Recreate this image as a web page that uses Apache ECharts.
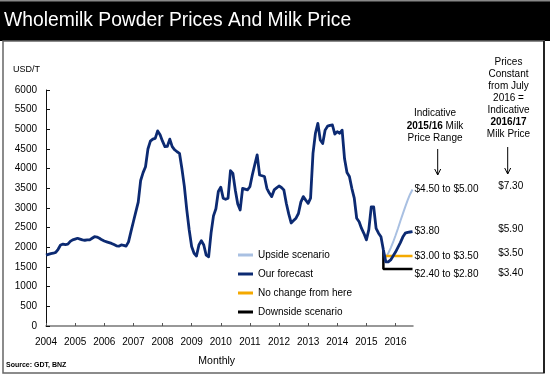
<!DOCTYPE html>
<html>
<head>
<meta charset="utf-8">
<script src="https://cdn.jsdelivr.net/npm/echarts@6/dist/echarts.min.js"></script>
<style>
html,body{margin:0;padding:0;background:#fff;}
#chart{width:550px;height:378px;}
</style>
</head>
<body>
<div id="chart"></div>
<script>
// ---- Data ----
const historyStart = '2004-01';
// Wholemilk powder price, USD/T, monthly Jan 2004 .. Aug 2015
const wmpHistory = [
  1800,1820,1840,1850,1870,1950,2060,2080,2070,2080,2150,2190,
  2210,2230,2210,2190,2180,2190,2190,2230,2270,2260,2230,2190,
  2160,2140,2120,2100,2070,2040,2030,2060,2050,2030,2140,2400,
  2650,2900,3150,3700,3900,4050,4500,4700,4750,4770,4960,4860,
  4700,4560,4570,4750,4560,4480,4430,4390,4000,3550,2950,2440,
  2020,1850,1780,2060,2170,2060,1800,1760,2360,2800,2980,3420,
  3530,3250,3220,3250,3950,3880,3450,3100,2950,3500,3480,3460,
  3540,3840,4100,4350,3840,3820,3800,3500,3380,3290,3460,3510,
  3560,3520,3460,3120,2850,2620,2680,2740,2860,3150,3290,3200,
  3120,3250,4390,4900,5150,4730,4640,4980,5080,5100,5110,4880,
  4940,4900,4980,4250,3900,3800,3500,3250,2740,2650,2480,2350,
  2190,2450,3030,3030,2480,2360,2270,1930
];
const forecastMonths = ['2015-09','2015-10','2015-11','2015-12','2016-01','2016-02',
                        '2016-03','2016-04','2016-05','2016-06','2016-07','2016-08'];
const ourForecast = [1630,1630,1680,1780,1880,2000,2120,2260,2360,2380,2390,2400];
const upsideScenario = [1750,1850,1980,2130,2300,2480,2670,2850,3030,3200,3350,3470];
const noChange = [['2015-08',1780],['2016-08',1780]];
const downside = [['2015-08',1930],['2015-08',1450],['2016-08',1450]];
const yearTicks = ['2004','2005','2006','2007','2008','2009','2010','2011','2012','2013','2014','2015','2016'];
const seriesNames = ['Upside scenario','Our forecast','No change from here','Downside scenario'];
const milkPriceRange = ['$4.50 to $5.00','$3.80','$3.00 to $3.50','$2.40 to $2.80'];
const milkPrice1617 = ['$7.30','$5.90','$3.50','$3.40'];

// ---- helpers ----
function toYear(ym){ const p = ym.split('-'); return (+p[0]) + (+p[1]-1)/12; }
function monthAt(start, i){ const p = start.split('-'); const t = (+p[0])*12 + (+p[1]-1) + i;
  return Math.floor(t/12) + '-' + String(t%12+1).padStart(2,'0'); }

const ourData = wmpHistory.map((v,i)=>[toYear(monthAt(historyStart,i)), v])
  .concat(ourForecast.map((v,i)=>[toYear(forecastMonths[i]), v]));
const upData = [[toYear('2015-08'), null]].concat(upsideScenario.map((v,i)=>[toYear(forecastMonths[i]), v]));
const ncData = noChange.map(d=>[toYear(d[0]), d[1]]);
const dnData = downside.map(d=>[toYear(d[0]), d[1]]);

const FONT = "'Liberation Sans', Arial, sans-serif";
const chart = echarts.init(document.getElementById('chart'), null, {renderer:'canvas'});

function endLbl(text, off){ return {show:true, formatter:text, distance:2, offset: off||[0,0],
  color:'#000', fontSize:10, fontFamily:FONT}; }

const option = {
  animation:false,
  backgroundColor:'#fff',
  grid:{left:46, right:137, top:90, bottom:52},
  xAxis:{
    type:'value', min:2004, max:2016.6, interval:1,
    axisLine:{lineStyle:{color:'#777', width:1.5}},
    axisTick:{inside:true, length:3, lineStyle:{color:'#555'}},
    splitLine:{show:false},
    axisLabel:{showMaxLabel:false, margin:11, color:'#000', fontSize:10, fontFamily:FONT,
      formatter:(v)=>{ const s = String(Math.round(v)); return (Math.abs(v-Math.round(v))<1e-6 && yearTicks.includes(s)) ? s : ''; }}
  },
  yAxis:{
    type:'value', min:0, max:6000, interval:500,
    axisLine:{show:true, lineStyle:{color:'#111', width:1}},
    axisTick:{show:true, inside:true, length:4, lineStyle:{color:'#111'}},
    splitLine:{show:false},
    axisLabel:{margin:9, color:'#000', fontSize:10, fontFamily:FONT, formatter:(v)=>String(v)}
  },
  legend:{
    orient:'vertical', left:238, top:249, padding:0, icon:'rect', itemWidth:15, itemHeight:3, itemGap:7,
    selectedMode:false,
    data:seriesNames,
    textStyle:{color:'#000', fontSize:10, fontFamily:FONT, lineHeight:12}
  },
  series:[
    {name:seriesNames[0], type:'line', data:upData, showSymbol:false, symbol:'none', z:2,
     lineStyle:{color:'#a9c0e2', width:2}, itemStyle:{color:'#a9c0e2'},
     endLabel:endLbl(milkPriceRange[0])},
    {name:seriesNames[2], type:'line', data:ncData, showSymbol:false, symbol:'none', z:3,
     lineStyle:{color:'#f4a900', width:2.5}, itemStyle:{color:'#f4a900'},
     endLabel:endLbl(milkPriceRange[2])},
    {name:seriesNames[3], type:'line', data:dnData, showSymbol:false, symbol:'none', z:3,
     lineStyle:{color:'#000', width:2.5}, itemStyle:{color:'#000'},
     endLabel:endLbl(milkPriceRange[3],[0,5])},
    {name:seriesNames[1], type:'line', data:ourData, showSymbol:false, symbol:'none', z:4,
     lineStyle:{color:'#0c2a72', width:2.8, join:'round'}, itemStyle:{color:'#0c2a72'},
     endLabel:endLbl(milkPriceRange[1])}
  ],
  graphic:[
    {type:'rect', shape:{x:0,y:0,width:550,height:41}, style:{fill:'#000'}, z:0},
    {type:'rect', shape:{x:0,y:0,width:550,height:1.5}, style:{fill:'#888'}, z:1},
    {type:'text', left:4, top:11, style:{text:'Wholemilk Powder Prices And Milk Price', fill:'#fff',
      fontSize:19.3, fontFamily:FONT}},
    {type:'rect', shape:{x:3,y:41,width:541,height:332}, style:{fill:null, stroke:'#666', lineWidth:1.5}},
    {type:'line', shape:{x1:544,y1:41,x2:544,y2:373}, style:{stroke:'#000', lineWidth:1.5}},
    {type:'text', x:13, y:65, style:{text:'USD/T', fill:'#000', fontSize:9, fontFamily:FONT}},
    {type:'text', x:216.7, y:356, style:{text:'Monthly', fill:'#000', fontSize:10.5, fontFamily:FONT, align:'center'}},
    {type:'text', x:6, y:362, style:{text:'Source: GDT, BNZ', fill:'#000', fontSize:7, fontWeight:'bold', fontFamily:FONT}},
    {type:'text', x:435, y:107, style:{text:'Indicative\n{b|2015/16} Milk\nPrice Range', fill:'#000',
      fontSize:10, lineHeight:12.5, fontFamily:FONT, align:'center',
      rich:{b:{fontWeight:'bold', fontSize:10, fontFamily:FONT, fill:'#000', lineHeight:12.5}}}},
    {type:'text', x:508.5, y:56.5, style:{text:'Prices\nConstant\nfrom July\n2016 =\nIndicative\n{b|2016/17}\nMilk Price', fill:'#000',
      fontSize:10, lineHeight:12, fontFamily:FONT, align:'center',
      rich:{b:{fontWeight:'bold', fontSize:10, fontFamily:FONT, fill:'#000', lineHeight:12}}}},
    {type:'line', shape:{x1:437.7,y1:149,x2:437.7,y2:175}, style:{stroke:'#000', lineWidth:1}},
    {type:'polyline', shape:{points:[[434.7,169],[437.7,175],[440.7,169]]}, style:{stroke:'#000', lineWidth:1, fill:null}},
    {type:'line', shape:{x1:507.7,y1:147,x2:507.7,y2:174}, style:{stroke:'#000', lineWidth:1}},
    {type:'polyline', shape:{points:[[504.7,168],[507.7,174],[510.7,168]]}, style:{stroke:'#000', lineWidth:1, fill:null}},
    {type:'text', x:510.7, y:181.5, style:{text:milkPrice1617[0], fill:'#000', fontSize:10, fontFamily:FONT, align:'center'}},
    {type:'text', x:510.7, y:224.5, style:{text:milkPrice1617[1], fill:'#000', fontSize:10, fontFamily:FONT, align:'center'}},
    {type:'text', x:510.7, y:248.5, style:{text:milkPrice1617[2], fill:'#000', fontSize:10, fontFamily:FONT, align:'center'}},
    {type:'text', x:510.7, y:268.5, style:{text:milkPrice1617[3], fill:'#000', fontSize:10, fontFamily:FONT, align:'center'}}
  ]
};
chart.setOption(option);
</script>
</body>
</html>
